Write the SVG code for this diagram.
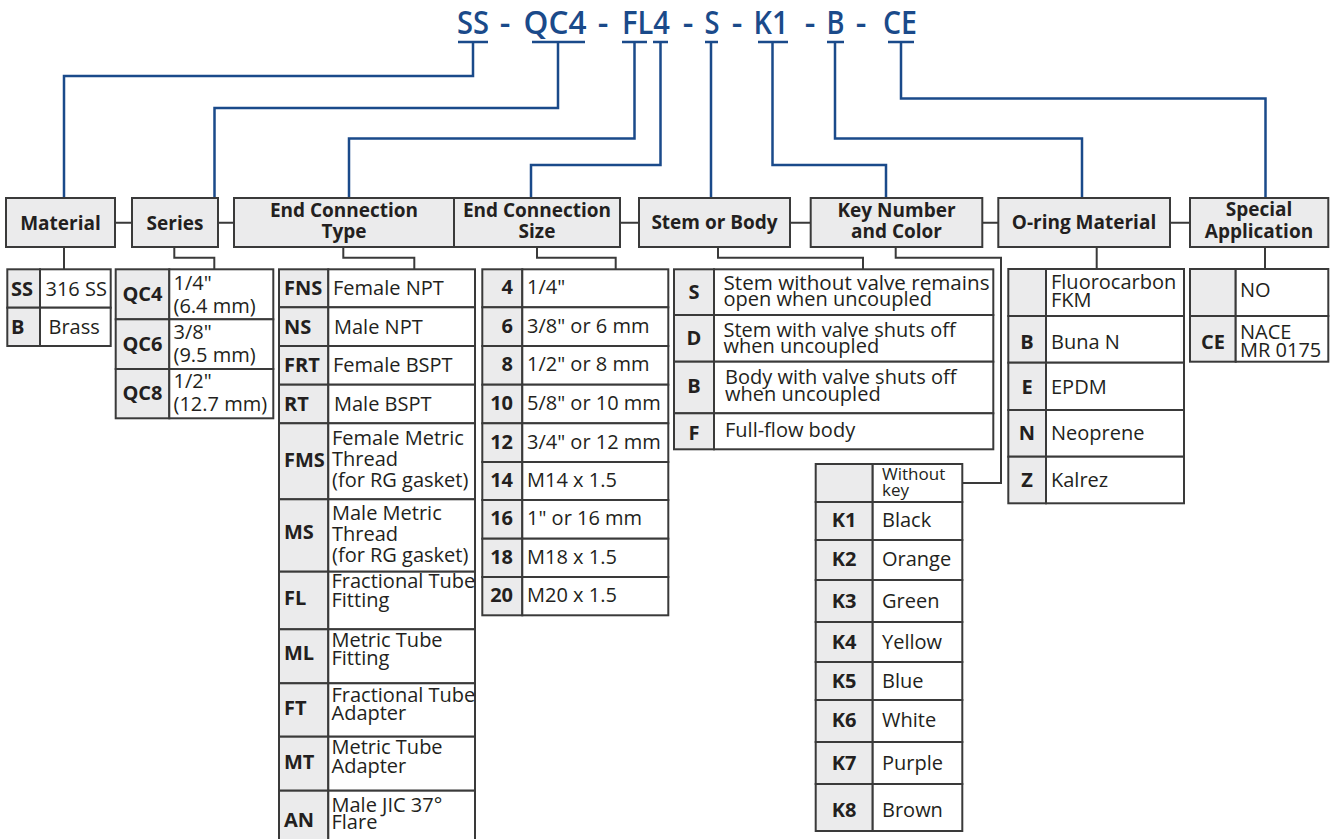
<svg xmlns="http://www.w3.org/2000/svg" width="1330" height="839" viewBox="0 0 1330 839">
<style>
text{font-family:"Open Sans","Noto Sans","Liberation Sans",sans-serif;fill:#231f20;font-size:20px}
.t{fill:#1a4a8a;font-size:33px;font-weight:600;text-anchor:middle}
.h{font-weight:bold;font-size:19px;text-anchor:middle}
.k{font-weight:bold}
.kc{font-weight:bold;text-anchor:middle}
.kr{font-weight:bold;text-anchor:end}
.box{fill:#ebebec;stroke:#3a3a3a;stroke-width:2}
.cell{fill:#fff;stroke:#3a3a3a;stroke-width:2}
.kcell{fill:#ebebec;stroke:#3a3a3a;stroke-width:2}
.bl{fill:none;stroke:#1a4a8a;stroke-width:2.5}
.gl{fill:none;stroke:#3a3a3a;stroke-width:2}
.sm{font-size:17px}
</style>
<rect width="1330" height="839" fill="#fff"/>
<g id="title">
<text class="t" x="473" y="34" textLength="32" lengthAdjust="spacingAndGlyphs">SS</text>
<text class="t" x="505" y="34">-</text>
<text class="t" x="555" y="34" textLength="63" lengthAdjust="spacingAndGlyphs">QC4</text>
<text class="t" x="603" y="34">-</text>
<text class="t" x="646" y="34" textLength="48" lengthAdjust="spacingAndGlyphs">FL4</text>
<text class="t" x="688" y="34">-</text>
<text class="t" x="712" y="34" textLength="15" lengthAdjust="spacingAndGlyphs">S</text>
<text class="t" x="737" y="34">-</text>
<text class="t" x="771" y="34" textLength="35" lengthAdjust="spacingAndGlyphs">K1</text>
<text class="t" x="810" y="34">-</text>
<text class="t" x="835.5" y="34" textLength="18" lengthAdjust="spacingAndGlyphs">B</text>
<text class="t" x="861" y="34">-</text>
<text class="t" x="900" y="34" textLength="34" lengthAdjust="spacingAndGlyphs">CE</text>
</g>
<g id="connectors">
<path class="bl" d="M458,42H488M473,42V76H64V198"/>
<path class="bl" d="M532,42H585M558,42V108H214.5V198"/>
<path class="bl" d="M622,42H647M634.5,42V138.5H349V198"/>
<path class="bl" d="M653,42H668M660.5,42V165H531V198"/>
<path class="bl" d="M705,42H718M711,42V198"/>
<path class="bl" d="M758,42H788M772.5,42V165H886V198"/>
<path class="bl" d="M827,42H844M835,42V138.5H1082V198"/>
<path class="bl" d="M888,42H914M901,42V98.5H1265.5V198"/>
<path class="gl" d="M115,222.7H132M218,222.7H234M620,222.7H639M790,222.7H810.7M982.3,222.7H998.3M1170,222.7H1190"/>
<path class="gl" d="M64,247V269"/>
<path class="gl" d="M174.3,247V257.7H214.3V269"/>
<path class="gl" d="M343.3,247V257.7H414.3V269"/>
<path class="gl" d="M537,247V257.7H615.7V269"/>
<path class="gl" d="M718,247V257.7H863V269"/>
<path class="gl" d="M895.7,247V257.7H1001V483H962.3"/>
<path class="gl" d="M1096.7,247V269"/>
<path class="gl" d="M1265,247V269"/>
</g>
<g id="h-material"><rect class="box" x="6" y="198" width="109" height="49"/><text class="h" x="60.5" y="230">Material</text></g>
<g id="h-series"><rect class="box" x="132" y="198" width="86" height="49"/><text class="h" x="175" y="230">Series</text></g>
<g id="h-ect"><rect class="box" x="234" y="198" width="220" height="49"/><text class="h" x="344" y="217">End Connection</text><text class="h" x="344" y="238">Type</text></g>
<g id="h-ecs"><rect class="box" x="454" y="198" width="166" height="49"/><text class="h" x="537" y="217">End Connection</text><text class="h" x="537" y="238">Size</text></g>
<g id="h-stem"><rect class="box" x="639" y="198" width="151" height="49"/><text class="h" x="714.5" y="229">Stem or Body</text></g>
<g id="h-key"><rect class="box" x="810.7" y="198" width="171.6" height="49"/><text class="h" x="896.5" y="217">Key Number</text><text class="h" x="896.5" y="238">and Color</text></g>
<g id="h-oring"><rect class="box" x="998.3" y="198" width="171.7" height="49"/><text class="h" x="1084" y="229">O-ring Material</text></g>
<g id="h-special"><rect class="box" x="1190" y="198" width="138.3" height="49"/><text class="h" x="1259" y="216">Special</text><text class="h" x="1259" y="238">Application</text></g>

<g id="t-material">
<rect class="kcell" x="7.3" y="269.3" width="32.7" height="38.4"/><rect class="cell" x="40" y="269.3" width="70.7" height="38.4"/>
<rect class="kcell" x="7.3" y="307.7" width="32.7" height="38.3"/><rect class="cell" x="40" y="307.7" width="70.7" height="38.3"/>
<text class="k" x="11" y="296">SS</text><text x="45.5" y="296">316 SS</text>
<text class="k" x="11" y="334">B</text><text x="48.5" y="334">Brass</text>
</g>
<g id="t-series">
<rect class="kcell" x="115.7" y="269.3" width="53.6" height="50"/><rect class="cell" x="169.3" y="269.3" width="104" height="50"/>
<rect class="kcell" x="115.7" y="319.3" width="53.6" height="49.7"/><rect class="cell" x="169.3" y="319.3" width="104" height="49.7"/>
<rect class="kcell" x="115.7" y="369" width="53.6" height="49.3"/><rect class="cell" x="169.3" y="369" width="104" height="49.3"/>
<text class="kc" x="142.5" y="301">QC4</text><text x="173.5" y="290">1/4"</text><text x="173.5" y="313">(6.4 mm)</text>
<text class="kc" x="142.5" y="351">QC6</text><text x="173.5" y="339">3/8"</text><text x="173.5" y="362">(9.5 mm)</text>
<text class="kc" x="142.5" y="400">QC8</text><text x="173.5" y="388">1/2"</text><text x="173.5" y="411">(12.7 mm)</text>
</g>
<g id="t-ect">
<rect class="kcell" x="279" y="269.3" width="49.3" height="38"/><rect class="cell" x="328.3" y="269.3" width="146.7" height="38"/>
<rect class="kcell" x="279" y="307.3" width="49.3" height="38.7"/><rect class="cell" x="328.3" y="307.3" width="146.7" height="38.7"/>
<rect class="kcell" x="279" y="346" width="49.3" height="38.7"/><rect class="cell" x="328.3" y="346" width="146.7" height="38.7"/>
<rect class="kcell" x="279" y="384.7" width="49.3" height="38.6"/><rect class="cell" x="328.3" y="384.7" width="146.7" height="38.6"/>
<rect class="kcell" x="279" y="423.3" width="49.3" height="76"/><rect class="cell" x="328.3" y="423.3" width="146.7" height="76"/>
<rect class="kcell" x="279" y="499.3" width="49.3" height="72.4"/><rect class="cell" x="328.3" y="499.3" width="146.7" height="72.4"/>
<rect class="kcell" x="279" y="571.7" width="49.3" height="57.6"/><rect class="cell" x="328.3" y="571.7" width="146.7" height="57.6"/>
<rect class="kcell" x="279" y="629.3" width="49.3" height="54"/><rect class="cell" x="328.3" y="629.3" width="146.7" height="54"/>
<rect class="kcell" x="279" y="683.3" width="49.3" height="53.4"/><rect class="cell" x="328.3" y="683.3" width="146.7" height="53.4"/>
<rect class="kcell" x="279" y="736.7" width="49.3" height="54"/><rect class="cell" x="328.3" y="736.7" width="146.7" height="54"/>
<rect class="kcell" x="279" y="790.7" width="49.3" height="50"/><rect class="cell" x="328.3" y="790.7" width="146.7" height="50"/>
<text class="k" x="284" y="295">FNS</text><text x="333" y="295">Female NPT</text>
<text class="k" x="284" y="333.5">NS</text><text x="334" y="333.5">Male NPT</text>
<text class="k" x="284" y="372">FRT</text><text x="333" y="372">Female BSPT</text>
<text class="k" x="284" y="410.5">RT</text><text x="334" y="410.5">Male BSPT</text>
<text class="k" x="284" y="467">FMS</text><text x="332" y="445">Female Metric</text><text x="332" y="465.5">Thread</text><text x="332" y="487">(for RG gasket)</text>
<text class="k" x="284" y="538.5">MS</text><text x="332" y="520">Male Metric</text><text x="332" y="540.5">Thread</text><text x="332" y="561.5">(for RG gasket)</text>
<text class="k" x="284" y="605">FL</text><text x="331.5" y="588">Fractional Tube</text><text x="331.5" y="606.5">Fitting</text>
<text class="k" x="284" y="660">ML</text><text x="331.5" y="646.5">Metric Tube</text><text x="331.5" y="665">Fitting</text>
<text class="k" x="284" y="715">FT</text><text x="331.5" y="701.5">Fractional Tube</text><text x="331.5" y="720">Adapter</text>
<text class="k" x="284" y="768.5">MT</text><text x="331.5" y="754">Metric Tube</text><text x="331.5" y="773">Adapter</text>
<text class="k" x="284" y="826.5">AN</text><text x="331.5" y="811.5">Male JIC 37°</text><text x="331.5" y="828.5">Flare</text>
</g>
<g id="t-ecs">
<rect class="kcell" x="482.3" y="269.3" width="40" height="38"/><rect class="cell" x="522.3" y="269.3" width="146" height="38"/>
<rect class="kcell" x="482.3" y="307.3" width="40" height="38.7"/><rect class="cell" x="522.3" y="307.3" width="146" height="38.7"/>
<rect class="kcell" x="482.3" y="346" width="40" height="38.7"/><rect class="cell" x="522.3" y="346" width="146" height="38.7"/>
<rect class="kcell" x="482.3" y="384.7" width="40" height="38.6"/><rect class="cell" x="522.3" y="384.7" width="146" height="38.6"/>
<rect class="kcell" x="482.3" y="423.3" width="40" height="38.7"/><rect class="cell" x="522.3" y="423.3" width="146" height="38.7"/>
<rect class="kcell" x="482.3" y="462" width="40" height="38"/><rect class="cell" x="522.3" y="462" width="146" height="38"/>
<rect class="kcell" x="482.3" y="500" width="40" height="38.7"/><rect class="cell" x="522.3" y="500" width="146" height="38.7"/>
<rect class="kcell" x="482.3" y="538.7" width="40" height="38.3"/><rect class="cell" x="522.3" y="538.7" width="146" height="38.3"/>
<rect class="kcell" x="482.3" y="577" width="40" height="38.3"/><rect class="cell" x="522.3" y="577" width="146" height="38.3"/>
<text class="kr" x="513" y="294">4</text><text x="527" y="294">1/4"</text>
<text class="kr" x="513" y="332.5">6</text><text x="527" y="332.5">3/8" or 6 mm</text>
<text class="kr" x="513" y="371">8</text><text x="527" y="371">1/2" or 8 mm</text>
<text class="kr" x="513" y="410">10</text><text x="527" y="410">5/8" or 10 mm</text>
<text class="kr" x="513" y="448.5">12</text><text x="527" y="448.5">3/4" or 12 mm</text>
<text class="kr" x="513" y="487">14</text><text x="527" y="487">M14 x 1.5</text>
<text class="kr" x="513" y="525">16</text><text x="527" y="525">1" or 16 mm</text>
<text class="kr" x="513" y="564">18</text><text x="527" y="564">M18 x 1.5</text>
<text class="kr" x="513" y="602">20</text><text x="527" y="602">M20 x 1.5</text>
</g>
<g id="t-stem">
<rect class="kcell" x="674" y="269.3" width="40" height="45.7"/><rect class="cell" x="714" y="269.3" width="279.3" height="45.7"/>
<rect class="kcell" x="674" y="315" width="40" height="46.7"/><rect class="cell" x="714" y="315" width="279.3" height="46.7"/>
<rect class="kcell" x="674" y="361.7" width="40" height="51.6"/><rect class="cell" x="714" y="361.7" width="279.3" height="51.6"/>
<rect class="kcell" x="674" y="413.3" width="40" height="36"/><rect class="cell" x="714" y="413.3" width="279.3" height="36"/>
<text class="kc" x="694" y="298.5">S</text><text x="723.5" y="289.5" textLength="266" lengthAdjust="spacingAndGlyphs">Stem without valve remains</text><text x="723.5" y="305.5">open when uncoupled</text>
<text class="kc" x="694" y="345">D</text><text x="723.5" y="336.5">Stem with valve shuts off</text><text x="723.5" y="352.5">when uncoupled</text>
<text class="kc" x="694" y="393">B</text><text x="725" y="384">Body with valve shuts off</text><text x="725" y="400.5">when uncoupled</text>
<text class="kc" x="694" y="440">F</text><text x="725" y="437">Full-flow body</text>
</g>
<g id="t-key">
<rect class="kcell" x="815.7" y="464" width="57" height="38"/><rect class="cell" x="872.7" y="464" width="89.6" height="38"/>
<rect class="kcell" x="815.7" y="502" width="57" height="38"/><rect class="cell" x="872.7" y="502" width="89.6" height="38"/>
<rect class="kcell" x="815.7" y="540" width="57" height="40"/><rect class="cell" x="872.7" y="540" width="89.6" height="40"/>
<rect class="kcell" x="815.7" y="580" width="57" height="42"/><rect class="cell" x="872.7" y="580" width="89.6" height="42"/>
<rect class="kcell" x="815.7" y="622" width="57" height="40"/><rect class="cell" x="872.7" y="622" width="89.6" height="40"/>
<rect class="kcell" x="815.7" y="662" width="57" height="38"/><rect class="cell" x="872.7" y="662" width="89.6" height="38"/>
<rect class="kcell" x="815.7" y="700" width="57" height="42"/><rect class="cell" x="872.7" y="700" width="89.6" height="42"/>
<rect class="kcell" x="815.7" y="742" width="57" height="42"/><rect class="cell" x="872.7" y="742" width="89.6" height="42"/>
<rect class="kcell" x="815.7" y="784" width="57" height="47"/><rect class="cell" x="872.7" y="784" width="89.6" height="47"/>
<text class="sm" x="882" y="480">Without</text><text class="sm" x="882" y="496">key</text>
<text class="kc" x="844" y="527">K1</text><text x="882" y="527">Black</text>
<text class="kc" x="844" y="566">K2</text><text x="882" y="566">Orange</text>
<text class="kc" x="844" y="608">K3</text><text x="882" y="608">Green</text>
<text class="kc" x="844" y="649">K4</text><text x="882" y="649">Yellow</text>
<text class="kc" x="844" y="688">K5</text><text x="882" y="688">Blue</text>
<text class="kc" x="844" y="727">K6</text><text x="882" y="727">White</text>
<text class="kc" x="844" y="770">K7</text><text x="882" y="770">Purple</text>
<text class="kc" x="844" y="817">K8</text><text x="882" y="817">Brown</text>
</g>
<g id="t-oring">
<rect class="kcell" x="1008.3" y="269" width="37.7" height="47"/><rect class="cell" x="1046" y="269" width="138" height="47"/>
<rect class="kcell" x="1008.3" y="316" width="37.7" height="46.7"/><rect class="cell" x="1046" y="316" width="138" height="46.7"/>
<rect class="kcell" x="1008.3" y="362.7" width="37.7" height="47.3"/><rect class="cell" x="1046" y="362.7" width="138" height="47.3"/>
<rect class="kcell" x="1008.3" y="410" width="37.7" height="46.7"/><rect class="cell" x="1046" y="410" width="138" height="46.7"/>
<rect class="kcell" x="1008.3" y="456.7" width="37.7" height="46.6"/><rect class="cell" x="1046" y="456.7" width="138" height="46.6"/>
<text x="1051" y="288.5">Fluorocarbon</text><text x="1051" y="307">FKM</text>
<text class="kc" x="1027" y="348.5">B</text><text x="1051" y="348.5">Buna N</text>
<text class="kc" x="1027" y="393.5">E</text><text x="1051" y="393.5">EPDM</text>
<text class="kc" x="1027" y="440">N</text><text x="1051" y="440">Neoprene</text>
<text class="kc" x="1027" y="487">Z</text><text x="1051" y="487">Kalrez</text>
</g>
<g id="t-special">
<rect class="kcell" x="1190" y="269" width="45.7" height="47"/><rect class="cell" x="1235.7" y="269" width="92.6" height="47"/>
<rect class="kcell" x="1190" y="316" width="45.7" height="45.7"/><rect class="cell" x="1235.7" y="316" width="92.6" height="45.7"/>
<text x="1240" y="297">NO</text>
<text class="kc" x="1213" y="348.5">CE</text><text x="1240" y="338.5">NACE</text><text x="1240" y="357">MR 0175</text>
</g>
</svg>
